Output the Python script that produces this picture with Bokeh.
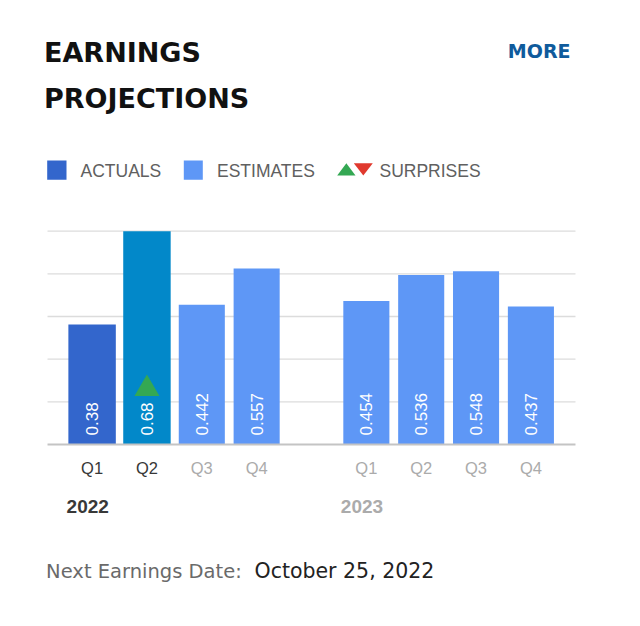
import math
from bokeh.plotting import figure
from bokeh.models import (ColumnDataSource, FactorRange, Range1d, LabelSet, Label,
                          BoxAnnotation, PolyAnnotation)
from bokeh.core.properties import value, field
from bokeh.embed import file_html
from bokeh.resources import INLINE

# ---------------- data ----------------
years = ["2022", "2022", "2022", "2022", "2023", "2023", "2023", "2023"]
quarters = ["Q1", "Q2", "Q3", "Q4", "Q1", "Q2", "Q3", "Q4"]
eps = [0.38, 0.68, 0.442, 0.557, 0.454, 0.536, 0.548, 0.437]
eps_labels = ["0.38", "0.68", "0.442", "0.557", "0.454", "0.536", "0.548", "0.437"]
kinds = ["actual", "actual", "estimate", "estimate", "estimate", "estimate", "estimate", "estimate"]
surprises = ["", "up", "", "", "", "", "", ""]
group_years = ["2022", "2023"]
group_kinds = ["actual", "estimate"]
legend_labels = ["ACTUALS", "ESTIMATES", "SURPRISES"]
title_lines = ["EARNINGS", "PROJECTIONS"]
more_text = "MORE"
next_label = "Next Earnings Date:"
next_date = "October 25, 2022"

# ---------------- styles / layout ----------------
COL_ACTUAL = "#3366cc"
COL_ACTUAL_SURPRISE = "#0288c9"
COL_EST = "#5e97f6"
COL_UP = "#34a853"
COL_DOWN = "#e0392e"
DARK_TICK = "#383838"
LIGHT_TICK = "#ababab"
W, H = 622, 620
Y_MAX = 0.675            # top of the plot area (value axis max)
PX_PER_UNIT = 316.0      # vertical scale
BASE_PX = 444            # page y of the baseline
SIDE_PAD = 1.17          # factor-range padding on each side (slots)
GRID_X0, GRID_X1 = -0.313, 9.313   # plot-area extent in slot units
TRI_Y = 0.176

factors = list(zip(years, quarters))

def bar_color(k, s):
    if k == "actual":
        return COL_ACTUAL_SURPRISE if s else COL_ACTUAL
    return COL_EST

src = ColumnDataSource(dict(
    x=factors,
    top=[min(v, Y_MAX) for v in eps],
    label=eps_labels,
    color=[bar_color(k, s) for k, s in zip(kinds, surprises)],
    w=[0.865 if k == "actual" else 0.84 for k in kinds],
    qcolor=[DARK_TICK if k == "actual" else LIGHT_TICK for k in kinds],
    qtext=quarters,
))

x_range = FactorRange(*factors, group_padding=1.0, range_padding=SIDE_PAD,
                      range_padding_units="absolute")
y_range = Range1d(-(H - BASE_PX) / PX_PER_UNIT, BASE_PX / PX_PER_UNIT)

p = figure(width=W, height=H, x_range=x_range, y_range=y_range,
           x_axis_location=None, y_axis_location=None,
           toolbar_location=None, output_backend="svg",
           min_border=0)
p.outline_line_color = None
p.xgrid.grid_line_color = None
p.ygrid.grid_line_color = None
p.background_fill_color = "white"
p.border_fill_color = "white"

# gridlines of the plot area
grid_vals = [Y_MAX * k / 5 for k in range(1, 6)]
p.segment(x0=[GRID_X0] * 5, x1=[GRID_X1] * 5, y0=grid_vals, y1=grid_vals,
          line_color="#dcdcdc", line_width=1.3)

p.vbar(x="x", top="top", bottom=0, width="w", fill_color="color", line_color=None, source=src)

# baseline
p.segment(x0=[GRID_X0], x1=[GRID_X1], y0=[0], y1=[0], line_color="#c4c4c4", line_width=2)

# values inside the bars
p.add_layout(LabelSet(x="x", y=0, text="label", source=src, angle=math.pi / 2,
                      y_offset=9, text_align="left", text_baseline="middle",
                      text_color="white", text_font=value("Liberation Sans"),
                      text_font_size="17px"))

# surprise markers
sx = [f for f, s in zip(factors, surprises) if s == "up"]
p.scatter(x=sx, y=[TRI_Y] * len(sx), marker="triangle", size=25,
          fill_color=COL_UP, line_color=None)

# quarter tick labels
p.add_layout(LabelSet(x="x", y=0, text="qtext", source=src, y_offset=-29.5,
                      text_align="center", text_baseline="alphabetic",
                      text_color=field("qcolor"), text_font=value("Liberation Sans"),
                      text_font_size="16.5px"))

# year group labels
ysrc = ColumnDataSource(dict(
    x=[(y, "Q1") for y in group_years],
    text=group_years,
    color=[DARK_TICK if k == "actual" else LIGHT_TICK for k in group_kinds],
))
p.add_layout(LabelSet(x="x", y=0, text="text", source=ysrc, x_offset=-25.5, y_offset=-68,
                      text_align="left", text_baseline="alphabetic",
                      text_color=field("color"), text_font=value("Liberation Sans"),
                      text_font_style="bold", text_font_size="19px"))

def sy(page_y):
    return H - page_y

def slabel(text, x, y, size, color, font="DejaVu Sans", style="normal", align="left"):
    p.add_layout(Label(x=x, y=sy(y), x_units="screen", y_units="screen", text=text,
                       text_font=font, text_font_size=size, text_font_style=style,
                       text_color=color, text_align=align, text_baseline="alphabetic"))

def sbox(l, r, t, b, color):
    p.add_layout(BoxAnnotation(left=l, right=r, top=sy(t), bottom=sy(b),
                               left_units="screen", right_units="screen",
                               top_units="screen", bottom_units="screen",
                               fill_color=color, fill_alpha=1, line_color=None))

def stri(xs, ys, color):
    p.add_layout(PolyAnnotation(xs=xs, ys=[sy(v) for v in ys],
                                xs_units="screen", ys_units="screen",
                                fill_color=color, fill_alpha=1, line_color=None))

# header
slabel(title_lines[0], 43.5, 52, "27px", "#111111", style="bold")
slabel(title_lines[1], 43.5, 97.5, "27px", "#111111", style="bold")
slabel(more_text, 570, 50.5, "19px", "#0f5b9c", style="bold", align="right")

# legend
sbox(46.7, 66, 160, 179.3, COL_ACTUAL)
sbox(183.3, 202.3, 160, 179.3, COL_EST)
stri([336.7, 355, 345.85], [175, 175, 162.7], COL_UP)
stri([353.3, 372.3, 362.8], [162.7, 162.7, 175], COL_DOWN)
slabel(legend_labels[0], 80, 170.5, "17.5px", "#606060", font="Liberation Sans")
slabel(legend_labels[1], 216.5, 170.5, "17.5px", "#606060", font="Liberation Sans")
slabel(legend_labels[2], 379, 170.5, "17.5px", "#606060", font="Liberation Sans")

# footer
slabel(next_label, 45.6, 570.5, "19.5px", "#6a6a6a")
slabel(next_date, 254, 570.5, "20.5px", "#222222")

open("out.html", "w").write(file_html(p, INLINE))
